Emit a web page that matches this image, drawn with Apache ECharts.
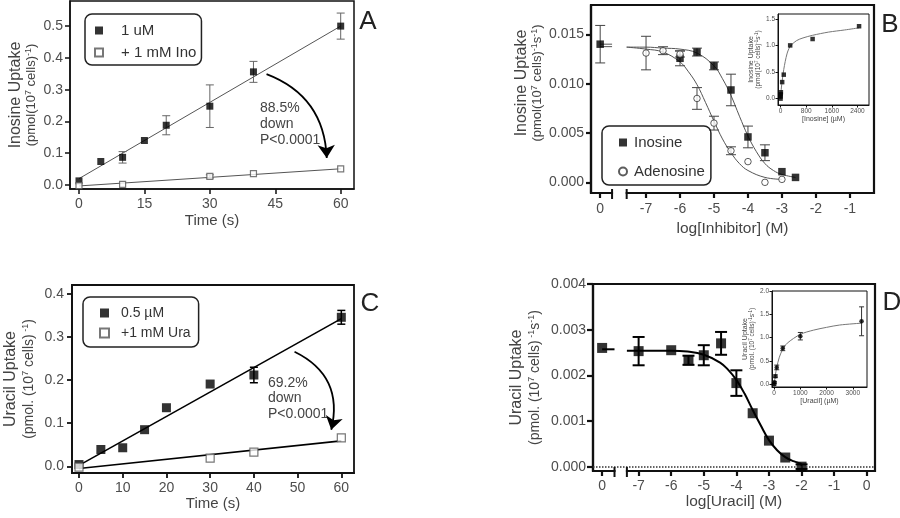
<!DOCTYPE html>
<html><head><meta charset="utf-8">
<script src="https://cdn.jsdelivr.net/npm/echarts@6/dist/echarts.min.js"></script>
<style>html,body{margin:0;padding:0;background:#fff}#c{width:900px;height:518px}</style>
</head><body><div id="c"></div>
<script>
// ---------- Panel A : inosine uptake time course ----------
const timeA = [0, 5, 10, 15, 20, 30, 40, 60];
const uptakeA1uM = [0.013, 0.074, 0.087, 0.140, 0.188, 0.248, 0.356, 0.500];
const errA1uM = [0, 0, 0.018, 0, 0.030, 0.067, 0.033, 0.041];
const timeAIno = [0, 10, 30, 40, 60];
const uptakeAIno = [-0.002, 0.002, 0.027, 0.036, 0.051];
const errAIno = [0, 0, 0.005, 0, 0];
const fitTimeA = [0, 60];
const fitA1uM = [0.020, 0.500];
const fitAIno = [-0.003, 0.051];
const xTicksA = [0, 15, 30, 45, 60];
const yTicksA = [0, 0.1, 0.2, 0.3, 0.4, 0.5];

// ---------- Panel B : inhibition of inosine uptake ----------
const logInoB = [-8.35, -6, -5.5, -5, -4.5, -4, -3.5, -3, -2.6];
const uptakeInoB = [0.0140, 0.01257, 0.0132, 0.0118, 0.00936, 0.0046, 0.0030, 0.00108, 0.0005];
const errInoB = [0.0019, 0.00076, 0.0004, 0.0004, 0.0016, 0.0011, 0.0008, 0, 0];
const logAdoB = [-7, -6.5, -6, -5.5, -5, -4.5, -4, -3.5, -3];
const uptakeAdoB = [0.0131, 0.01334, 0.0130, 0.0085, 0.0060, 0.0032, 0.0021, 0.0000, 0.0003];
const errAdoB = [0.0017, 0.0004, 0.0003, 0.0011, 0.0007, 0.0004, 0, 0, 0];
const curveXInoB = [-7.57, -7, -6.5, -6, -5.5, -5, -4.75, -4.5, -4.25, -4, -3.75, -3.5, -3.25, -3, -2.6];
const curveInoB = [0.0137, 0.0137, 0.0136, 0.0135, 0.0131, 0.0118, 0.0105, 0.0088, 0.0067, 0.0047, 0.0031, 0.0019, 0.0012, 0.0008, 0.0005];
const curveXAdoB = [-7.57, -7, -6.5, -6, -5.75, -5.5, -5.25, -5, -4.75, -4.5, -4.25, -4, -3.5, -3];
const curveAdoB = [0.0137, 0.0135, 0.0132, 0.0122, 0.0112, 0.0099, 0.0081, 0.0062, 0.0044, 0.0030, 0.0019, 0.0012, 0.0005, 0.0003];
const ctrlXB = [-8.35, -8.0];
const ctrlInoB = [0.01375, 0.01375];
const ctrlAdoB = [0.0140, 0.0140];
const xTicksB = [-8.35, -7, -6, -5, -4, -3, -2, -1];
const yTicksB = [0, 0.005, 0.010, 0.015];
const breakB = [-8.0, -7.57];

// inset B : inosine concentration curve
const concInsetB = [0, 1, 5, 10, 50, 100, 300, 1000, 2450];
const uptakeInsetB = [0.0, 0.04, 0.08, 0.12, 0.31, 0.45, 1.0, 1.12, 1.36];
const curveXInsetB = [0, 25, 50, 100, 200, 300, 500, 700, 1000, 1500, 2000, 2450];
const curveInsetB = [0, 0.2, 0.33, 0.55, 0.84, 0.98, 1.09, 1.14, 1.19, 1.25, 1.29, 1.33];
const xTicksInsetB = [0, 800, 1600, 2400];
const yTicksInsetB = [0, 0.5, 1.0, 1.5];

// ---------- Panel C : uracil uptake time course ----------
const timeC = [0, 5, 10, 15, 20, 30, 40, 60];
const uptakeC05 = [0.004, 0.039, 0.043, 0.085, 0.136, 0.191, 0.212, 0.346];
const errC05 = [0, 0, 0, 0, 0, 0, 0.018, 0.016];
const timeCUra = [0, 30, 40, 60];
const uptakeCUra = [-0.002, 0.019, 0.033, 0.066];
const fitTimeC = [0, 60];
const fitC05 = [0.002, 0.343];
const fitCUra = [-0.005, 0.059];
const xTicksC = [0, 10, 20, 30, 40, 50, 60];
const yTicksC = [0, 0.1, 0.2, 0.3, 0.4];

// ---------- Panel D : inhibition of uracil uptake ----------
const logUraD = [-8.12, -7, -6, -5.47, -5, -4.47, -4, -3.5, -3, -2.5, -2];
const uptakeUraD = [0.0026, 0.00253, 0.00255, 0.00233, 0.00244, 0.0027, 0.00183, 0.00117, 0.00057, 0.0002, 0.0000];
const errUraD = [0, 0.00031, 0, 0.0001, 0.00022, 0.00025, 0.00028, 0, 0, 0, 0.00005];
const curveXD = [-7.36, -7, -6, -5.5, -5, -4.5, -4.25, -4, -3.75, -3.5, -3.25, -3, -2.75, -2.5, -2.25, -2];
const curveD = [0.00254, 0.00254, 0.00254, 0.00252, 0.00245, 0.00228, 0.00212, 0.00190, 0.0016, 0.00124, 0.0009, 0.00058, 0.00036, 0.00021, 0.00012, 0.00006];
const ctrlXD = [-8.12, -7.74];
const ctrlD = [0.00257, 0.00257];
const xTicksD = [-8.12, -7, -6, -5, -4, -3, -2, -1, 0];
const yTicksD = [0, 0.001, 0.002, 0.003, 0.004];
const breakD = [-7.74, -7.36];

// inset D : uracil concentration curve
const concInsetD = [0, 10, 50, 100, 330, 1000, 3333];
const uptakeInsetD = [0.0, 0.04, 0.17, 0.36, 0.77, 1.03, 1.35];
const errInsetD = [0.02, 0.02, 0.03, 0.05, 0.05, 0.08, 0.31];
const curveXInsetD = [0, 50, 100, 200, 330, 500, 1000, 1500, 2000, 2500, 3333];
const curveInsetD = [0, 0.2, 0.36, 0.58, 0.75, 0.88, 1.07, 1.16, 1.22, 1.27, 1.31];
const xTicksInsetD = [0, 1000, 2000, 3000];
const yTicksInsetD = [0, 0.5, 1.0, 1.5, 2.0];

// ---------- helpers ----------
const FONT = "'Liberation Sans', Arial, Helvetica, sans-serif";
const LBL = '#4d4d4d', TTL = '#444', AX = '#111';
const pairs = (xs, ys) => xs.map((x, i) => [x, ys[i]]);
const errData = (xs, ys, es) => xs.map((x, i) => [x, ys[i] - es[i], ys[i] + es[i]]).filter((d, i) => es[i] > 0);
const logFmt = v => (v < -8 ? '0' : String(v));

function errSeries(idx, data, color, width, cap) {
  return {
    type: 'custom', xAxisIndex: idx, yAxisIndex: idx, data: data, z: 2, silent: true,
    renderItem: function (params, api) {
      const x = api.value(0);
      const a = api.coord([x, api.value(1)]);
      const b = api.coord([x, api.value(2)]);
      const st = { stroke: color, lineWidth: width };
      return { type: 'group', children: [
        { type: 'line', shape: { x1: a[0], y1: a[1], x2: b[0], y2: b[1] }, style: st },
        { type: 'line', shape: { x1: a[0] - cap, y1: a[1], x2: a[0] + cap, y2: a[1] }, style: st },
        { type: 'line', shape: { x1: b[0] - cap, y1: b[1], x2: b[0] + cap, y2: b[1] }, style: st }
      ] };
    }
  };
}

function xAx(idx, min, max, ticks, fmt, o) {
  return {
    gridIndex: idx, type: 'value', min: min, max: max,
    axisLine: { show: true, onZero: false, lineStyle: { color: AX, width: o.lw } },
    axisTick: { show: true, customValues: ticks, length: o.tl, lineStyle: { color: AX, width: o.lw } },
    axisLabel: { customValues: ticks, formatter: fmt, margin: o.margin, fontSize: o.fs, color: LBL, fontFamily: FONT },
    splitLine: { show: false },
    name: o.name, nameLocation: 'middle', nameGap: o.gap,
    nameTextStyle: { fontSize: o.nfs, color: TTL, fontFamily: FONT }
  };
}
function yAx(idx, min, max, ticks, fmt, o) {
  return {
    gridIndex: idx, type: 'value', min: min, max: max,
    axisLine: { show: true, onZero: false, lineStyle: { color: AX, width: o.lw } },
    axisTick: { show: true, customValues: ticks, length: o.tl, lineStyle: { color: AX, width: o.lw } },
    axisLabel: { customValues: ticks, formatter: fmt, margin: o.margin, fontSize: o.fs, color: LBL, fontFamily: FONT },
    splitLine: { show: false },
    name: o.name, nameLocation: 'middle', nameRotate: 90, nameGap: o.gap,
    nameTextStyle: { color: TTL, fontFamily: FONT, padding: o.pad || 0,
      rich: {
        t: { fontSize: o.f1, color: TTL, fontFamily: FONT, lineHeight: o.lh1 },
        s: { fontSize: o.f2, color: TTL, fontFamily: FONT, lineHeight: o.lh2 },
        p: { fontSize: o.f3, color: TTL, fontFamily: FONT, lineHeight: o.f3, verticalAlign: 'top' }
      } }
  };
}
const gridBox = (l, t, w, h, bw) => ({ left: l, top: t, width: w, height: h, show: true, borderColor: AX, borderWidth: bw, containLabel: false, outerBoundsMode: 'none' });

const chart = echarts.init(document.getElementById('c'), null, { renderer: 'canvas' });

const option = {
  animation: false,
  backgroundColor: '#fff',
  textStyle: { fontFamily: FONT },
  grid: [
    gridBox(70, 1, 284, 188, 1.5),
    gridBox(591, 5, 283, 188, 2.2),
    gridBox(72, 285, 282, 188, 1.8),
    gridBox(593, 284, 282, 187, 2.2),
    gridBox(778, 14, 91, 91, 1),
    gridBox(772, 291, 95, 96, 1)
  ],
  xAxis: [
    xAx(0, -2.06, 63.05, xTicksA, v => String(v), { lw: 1.5, tl: 5, margin: 8, fs: 14, name: 'Time (s)', gap: 24, nfs: 15 }),
    xAx(1, -8.62, -0.29, xTicksB, logFmt, { lw: 2.2, tl: 5, margin: 9, fs: 14, name: 'log[Inhibitor] (M)', gap: 28, nfs: 15.5 }),
    xAx(2, -1.6, 62.9, xTicksC, v => String(v), { lw: 1.8, tl: 5, margin: 8, fs: 14, name: 'Time (s)', gap: 22, nfs: 15 }),
    xAx(3, -8.40, 0.254, xTicksD, logFmt, { lw: 2.2, tl: 5, margin: 8, fs: 14, name: 'log[Uracil] (M)', gap: 21, nfs: 15.5 }),
    xAx(4, -80, 2760, xTicksInsetB, v => String(v), { lw: 1, tl: 2.5, margin: 3, fs: 6.5, name: '[Inosine] (\u00b5M)', gap: 11, nfs: 7 }),
    xAx(5, -80, 3540, xTicksInsetD, v => String(v), { lw: 1, tl: 2.5, margin: 3, fs: 6.5, name: '[Uracil] (\u00b5M)', gap: 11, nfs: 7 })
  ],
  yAxis: [
    yAx(0, -0.0126, 0.579, yTicksA, v => v.toFixed(1), { lw: 1.5, tl: 5, margin: 7, fs: 14, gap: 31, f1: 16, f2: 13, f3: 9, lh1: 17, lh2: 15,
      name: '{t|Inosine Uptake}\n{s|(pmol(10}{p|7}{s| cells)}{p|-1}{s|)}' }),
    yAx(1, -0.00108, 0.01797, yTicksB, v => v.toFixed(3), { lw: 2.2, tl: 5, margin: 7, fs: 14, gap: 46, f1: 16, f2: 13, f3: 9, lh1: 17, lh2: 15, pad: [0, 0, 0, 32],
      name: '{t|Inosine Uptake}\n{s|(pmol(10}{p|7}{s| cells)}{p|-1}{s|s}{p|-1}{s|)}' }),
    yAx(2, -0.0156, 0.421, yTicksC, v => v.toFixed(1), { lw: 1.8, tl: 5, margin: 8, fs: 14, gap: 35, f1: 16, f2: 14, f3: 9, lh1: 20, lh2: 16,
      name: '{t|Uracil Uptake}\n{s|(pmol. (10}{p|7}{s| cells)}{p| -1}{s|)}' }),
    yAx(3, -0.000095, 0.004, yTicksD, v => v.toFixed(3), { lw: 2.2, tl: 6, margin: 7, fs: 14, gap: 50, f1: 16, f2: 14, f3: 9, lh1: 21, lh2: 16,
      name: '{t|Uracil Uptake}\n{s|(pmol. (10}{p|7}{s| cells)}{p| -1}{s|s}{p|-1}{s|)}' }),
    yAx(4, -0.12, 1.59, yTicksInsetB, v => v.toFixed(1), { lw: 1, tl: 2.5, margin: 3, fs: 6.5, gap: 13, f1: 7, f2: 6.5, f3: 4.5, lh1: 8, lh2: 8,
      name: '{t|Inosine Uptake}\n{s|(pmol(10}{p|7}{s| cells)}{p|-1}{s|s}{p|-1}{s|)}' }),
    yAx(5, -0.06, 2.0, yTicksInsetD, v => v.toFixed(1), { lw: 1, tl: 2.5, margin: 3, fs: 6.5, gap: 13, f1: 7, f2: 6.5, f3: 4.5, lh1: 8, lh2: 8,
      name: '{t|Uracil Uptake}\n{s|(pmol. (10}{p|7}{s| cells)}{p|-1}{s|s}{p|-1}{s|)}' })
  ],
  legend: [
    { data: ['1 uM', '+ 1 mM Ino'], orient: 'vertical', left: 85, top: 14, padding: [9, 5, 5, 9], itemWidth: 8, itemHeight: 8, itemGap: 7,
      borderColor: '#222', borderWidth: 1.5, borderRadius: 7, selectedMode: false,
      textStyle: { fontSize: 15, color: '#333', fontFamily: FONT, padding: [0, 0, 0, 13] } },
    { data: ['Inosine', 'Adenosine'], orient: 'vertical', left: 602, top: 126, padding: [9, 6, 6, 16], itemWidth: 8, itemHeight: 8, itemGap: 14,
      borderColor: '#222', borderWidth: 1.5, borderRadius: 7, selectedMode: false,
      textStyle: { fontSize: 15, color: '#333', fontFamily: FONT, padding: [0, 0, 0, 2] } },
    { data: ['0.5 \u00b5M', '+1 mM Ura'], orient: 'vertical', left: 83, top: 297, padding: [9, 8, 7, 16], itemWidth: 9, itemHeight: 9, itemGap: 6,
      borderColor: '#222', borderWidth: 1.5, borderRadius: 7, selectedMode: false,
      textStyle: { fontSize: 14, color: '#333', fontFamily: FONT, padding: [0, 0, 0, 7] } }
  ],
  series: [
    // ---- A ----
    { type: 'line', xAxisIndex: 0, yAxisIndex: 0, data: pairs(fitTimeA, fitA1uM), showSymbol: false, silent: true, z: 1, lineStyle: { color: '#555', width: 1 } },
    { type: 'line', xAxisIndex: 0, yAxisIndex: 0, data: pairs(fitTimeA, fitAIno), showSymbol: false, silent: true, z: 1, lineStyle: { color: '#555', width: 1 } },
    errSeries(0, errData(timeA, uptakeA1uM, errA1uM), '#666', 1, 4),
    errSeries(0, errData(timeAIno, uptakeAIno, errAIno), '#666', 1, 4),
    { name: '1 uM', type: 'scatter', xAxisIndex: 0, yAxisIndex: 0, data: pairs(timeA, uptakeA1uM), symbol: 'rect', symbolSize: 7, z: 3, itemStyle: { color: '#000' } },
    { name: '+ 1 mM Ino', type: 'scatter', xAxisIndex: 0, yAxisIndex: 0, data: pairs(timeAIno, uptakeAIno), symbol: 'rect', symbolSize: 6, z: 3, itemStyle: { color: '#fff', borderColor: '#555', borderWidth: 1.2 } },
    { type: 'lines', coordinateSystem: 'cartesian2d', xAxisIndex: 0, yAxisIndex: 0, silent: true, z: 4,
      symbol: ['none', 'arrow'], symbolSize: [0, 13],
      lineStyle: { color: '#000', width: 1.8, curveness: 0.33, opacity: 1 },
      data: [{ coords: [[43.0, 0.349], [56.8, 0.085]] }] },

    // ---- B ----
    { type: 'line', xAxisIndex: 1, yAxisIndex: 1, data: pairs(curveXInoB, curveInoB), smooth: 0.4, showSymbol: false, silent: true, z: 1, lineStyle: { color: '#555', width: 1 } },
    { type: 'line', xAxisIndex: 1, yAxisIndex: 1, data: pairs(curveXAdoB, curveAdoB), smooth: 0.4, showSymbol: false, silent: true, z: 1, lineStyle: { color: '#555', width: 1 } },
    { type: 'line', xAxisIndex: 1, yAxisIndex: 1, data: pairs(ctrlXB, ctrlInoB), showSymbol: false, silent: true, z: 1, lineStyle: { color: '#555', width: 1 } },
    { type: 'line', xAxisIndex: 1, yAxisIndex: 1, data: pairs(ctrlXB, ctrlAdoB), showSymbol: false, silent: true, z: 1, lineStyle: { color: '#555', width: 1 } },
    errSeries(1, errData(logInoB, uptakeInoB, errInoB), '#444', 1, 5),
    errSeries(1, errData(logAdoB, uptakeAdoB, errAdoB), '#444', 1, 5),
    { name: 'Inosine', type: 'scatter', xAxisIndex: 1, yAxisIndex: 1, data: pairs(logInoB, uptakeInoB), symbol: 'rect', symbolSize: 7.5, z: 3, itemStyle: { color: '#000' } },
    { name: 'Adenosine', type: 'scatter', xAxisIndex: 1, yAxisIndex: 1, data: pairs(logAdoB, uptakeAdoB), symbol: 'circle', symbolSize: 6.5, z: 3, itemStyle: { color: '#fff', borderColor: '#333', borderWidth: 1 } },

    // ---- inset B ----
    { type: 'line', xAxisIndex: 4, yAxisIndex: 4, data: pairs(curveXInsetB, curveInsetB), smooth: 0.3, showSymbol: false, silent: true, z: 1, lineStyle: { color: '#777', width: 1 } },
    { type: 'scatter', xAxisIndex: 4, yAxisIndex: 4, data: pairs(concInsetB, uptakeInsetB), symbol: 'rect', symbolSize: 4.5, z: 3, itemStyle: { color: '#000' } },

    // ---- C ----
    { type: 'line', xAxisIndex: 2, yAxisIndex: 2, data: pairs(fitTimeC, fitC05), showSymbol: false, silent: true, z: 1, lineStyle: { color: '#000', width: 1.6 } },
    { type: 'line', xAxisIndex: 2, yAxisIndex: 2, data: pairs(fitTimeC, fitCUra), showSymbol: false, silent: true, z: 1, lineStyle: { color: '#000', width: 1.6 } },
    errSeries(2, errData(timeC, uptakeC05, errC05), '#000', 1.5, 4),
    { name: '0.5 \u00b5M', type: 'scatter', xAxisIndex: 2, yAxisIndex: 2, data: pairs(timeC, uptakeC05), symbol: 'rect', symbolSize: 9, z: 3, itemStyle: { color: '#000' } },
    { name: '+1 mM Ura', type: 'scatter', xAxisIndex: 2, yAxisIndex: 2, data: pairs(timeCUra, uptakeCUra), symbol: 'rect', symbolSize: 8, z: 3, itemStyle: { color: '#fff', borderColor: '#555', borderWidth: 1.2 } },
    { type: 'lines', coordinateSystem: 'cartesian2d', xAxisIndex: 2, yAxisIndex: 2, silent: true, z: 4,
      symbol: ['none', 'arrow'], symbolSize: [0, 13],
      lineStyle: { color: '#000', width: 1.8, curveness: 0.4, opacity: 1 },
      data: [{ coords: [[49.3, 0.266], [57.7, 0.085]] }] },

    // ---- D ----
    { type: 'line', xAxisIndex: 3, yAxisIndex: 3, data: pairs(curveXD, curveD), smooth: 0.4, showSymbol: false, silent: true, z: 1, lineStyle: { color: '#000', width: 2 },
      markLine: { silent: true, symbol: 'none', label: { show: false }, lineStyle: { type: 'dotted', color: '#333', width: 1.5 }, data: [{ yAxis: 0 }] } },
    { type: 'line', xAxisIndex: 3, yAxisIndex: 3, data: pairs(ctrlXD, ctrlD), showSymbol: false, silent: true, z: 1, lineStyle: { color: '#000', width: 2 } },
    errSeries(3, errData(logUraD, uptakeUraD, errUraD), '#000', 2, 6),
    { type: 'scatter', xAxisIndex: 3, yAxisIndex: 3, data: pairs(logUraD, uptakeUraD), symbol: 'rect', symbolSize: 10, z: 3, itemStyle: { color: '#000' } },

    // ---- inset D ----
    { type: 'line', xAxisIndex: 5, yAxisIndex: 5, data: pairs(curveXInsetD, curveInsetD), smooth: 0.3, showSymbol: false, silent: true, z: 1, lineStyle: { color: '#777', width: 1 } },
    errSeries(5, errData(concInsetD, uptakeInsetD, errInsetD), '#333', 1, 2.5),
    { type: 'scatter', xAxisIndex: 5, yAxisIndex: 5, data: pairs(concInsetD, uptakeInsetD), symbol: 'circle', symbolSize: 4.5, z: 3, itemStyle: { color: '#000' } }
  ],
  graphic: { elements: [
    { id: 'lA', type: 'text', x: 368, y: 22, style: { text: 'A', fontSize: 26, fontFamily: FONT, fill: '#222', align: 'center', verticalAlign: 'middle', textAlign: 'center', textVerticalAlign: 'middle' } },
    { id: 'lB', type: 'text', x: 890, y: 25, style: { text: 'B', fontSize: 26, fontFamily: FONT, fill: '#222', align: 'center', verticalAlign: 'middle', textAlign: 'center', textVerticalAlign: 'middle' } },
    { id: 'lC', type: 'text', x: 370, y: 304, style: { text: 'C', fontSize: 26, fontFamily: FONT, fill: '#222', align: 'center', verticalAlign: 'middle', textAlign: 'center', textVerticalAlign: 'middle' } },
    { id: 'lD', type: 'text', x: 892, y: 303, style: { text: 'D', fontSize: 26, fontFamily: FONT, fill: '#222', align: 'center', verticalAlign: 'middle', textAlign: 'center', textVerticalAlign: 'middle' } },
    { id: 'nA', type: 'text', x: 260, y: 100, style: { text: '88.5%\ndown\nP<0.0001', fontSize: 14, lineHeight: 16, fontFamily: FONT, fill: '#444', align: 'left', verticalAlign: 'top', textAlign: 'left', textVerticalAlign: 'top' } },
    { id: 'nC', type: 'text', x: 268, y: 375, style: { text: '69.2%\ndown\nP<0.0001', fontSize: 14, lineHeight: 15.5, fontFamily: FONT, fill: '#444', align: 'left', verticalAlign: 'top', textAlign: 'left', textVerticalAlign: 'top' } }
  ] }
};
chart.setOption(option);

// axis breaks on the broken x axes (B and D)
function breakEls(id, gridIndex, brk, yMin, lw) {
  const a = chart.convertToPixel({ gridIndex: gridIndex }, [brk[0], yMin]);
  const b = chart.convertToPixel({ gridIndex: gridIndex }, [brk[1], yMin]);
  return [
    { id: id + 'r', type: 'rect', z: 100, shape: { x: a[0] + 1, y: a[1] - 3, width: b[0] - a[0] - 2, height: 6 }, style: { fill: '#fff' } },
    { id: id + 'a', type: 'line', z: 101, shape: { x1: a[0], y1: a[1] - 4, x2: a[0], y2: a[1] + 6 }, style: { stroke: AX, lineWidth: lw } },
    { id: id + 'b', type: 'line', z: 101, shape: { x1: b[0], y1: b[1] - 4, x2: b[0], y2: b[1] + 6 }, style: { stroke: AX, lineWidth: lw } }
  ];
}
chart.setOption({ graphic: { elements: [].concat(
  breakEls('bB', 1, breakB, -0.00108, 2),
  breakEls('bD', 3, breakD, -0.000095, 2)
) } });
</script></body></html>
